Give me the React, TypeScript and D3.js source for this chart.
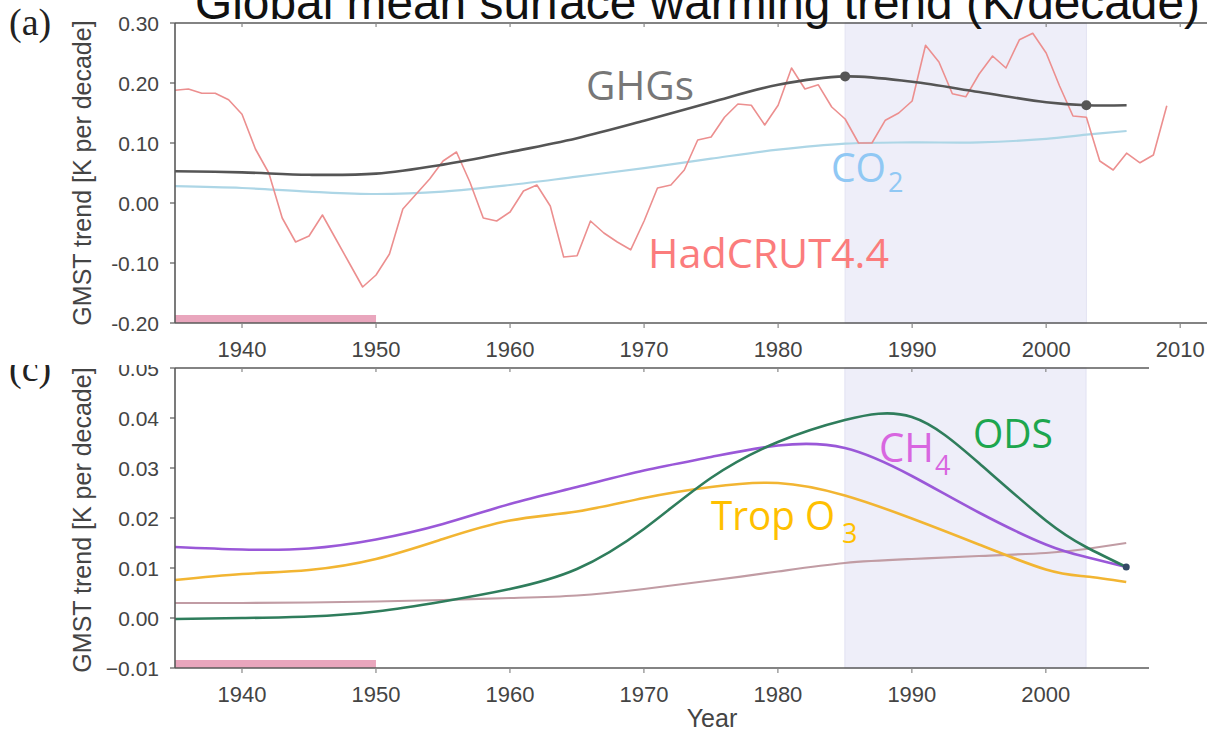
import React from "react";
import * as d3 from "d3";

// ---------- data ----------
const hadYears = d3.range(1935, 2010);
const hadVals = [
  0.188, 0.19, 0.183, 0.183, 0.172, 0.148, 0.09, 0.05, -0.025, -0.065,
  -0.055, -0.02, -0.06, -0.1, -0.14, -0.12, -0.085, -0.01, 0.015, 0.04,
  0.07, 0.085, 0.035, -0.025, -0.03, -0.015, 0.02, 0.03, -0.005, -0.09,
  -0.088, -0.03, -0.05, -0.065, -0.078, -0.03, 0.025, 0.03, 0.055, 0.105,
  0.11, 0.143, 0.165, 0.163, 0.13, 0.163, 0.225, 0.19, 0.197, 0.16,
  0.14, 0.1, 0.1, 0.138, 0.15, 0.17, 0.263, 0.235, 0.182, 0.177,
  0.215, 0.245, 0.225, 0.272, 0.283, 0.25, 0.195, 0.145, 0.143, 0.07,
  0.055, 0.083, 0.067, 0.08, 0.162,
];

const topYears = [1935, 1940, 1945, 1950, 1955, 1960, 1965, 1970, 1975, 1980, 1985, 1990, 1995, 2000, 2003, 2006];
const ghgVals = [0.053, 0.051, 0.047, 0.049, 0.064, 0.085, 0.108, 0.137, 0.168, 0.197, 0.211, 0.202, 0.185, 0.168, 0.163, 0.163];
const co2Vals = [0.028, 0.025, 0.019, 0.015, 0.019, 0.03, 0.044, 0.058, 0.074, 0.089, 0.099, 0.101, 0.101, 0.107, 0.114, 0.12];
const ghgDotYears = [1985, 2003];

const botYears = [1935, 1940, 1945, 1950, 1955, 1960, 1965, 1970, 1975, 1980, 1985, 1990, 1995, 2000, 2003, 2006];
const ch4Vals = [0.0142, 0.0137, 0.0139, 0.0157, 0.0188, 0.0228, 0.0262, 0.0295, 0.0322, 0.0345, 0.034, 0.0284, 0.0211, 0.0147, 0.0122, 0.0102];
const o3Vals = [0.0076, 0.0088, 0.0096, 0.0118, 0.0158, 0.0195, 0.0213, 0.024, 0.0262, 0.027, 0.0245, 0.0199, 0.0147, 0.0097, 0.0083, 0.0072];
const odsVals = [-0.0002, 0.0, 0.0003, 0.0013, 0.0033, 0.0058, 0.0098, 0.0178, 0.028, 0.0352, 0.0396, 0.0402, 0.031, 0.0195, 0.0142, 0.0102];
const otherVals = [0.003, 0.003, 0.0031, 0.0033, 0.0036, 0.004, 0.0045, 0.0058, 0.0075, 0.0093, 0.011, 0.0118, 0.0124, 0.013, 0.0138, 0.015];

const xTicks = [1940, 1950, 1960, 1970, 1980, 1990, 2000, 2010];
const xTicksBot = [1940, 1950, 1960, 1970, 1980, 1990, 2000];
const yTicksTop = [0.3, 0.2, 0.1, 0.0, -0.1, -0.2];
const yTickLabelsTop = ["0.30", "0.20", "0.10", "0.00", "-0.10", "-0.20"];
const yTicksBot = [0.05, 0.04, 0.03, 0.02, 0.01, 0.0, -0.01];
const yTickLabelsBot = ["0.05", "0.04", "0.03", "0.02", "0.01", "0.00", "\u22120.01"];
const shadeSpan = [1985, 2003];
const baseSpan = [1935, 1950];

// ---------- layout ----------
const W = 1207;
const H = 732;
const LEFT = 175;
const xTop = d3.scaleLinear().domain([1935, 2012]).range([LEFT, 1207]);
const xBot = d3.scaleLinear().domain([1935, 2007.7]).range([LEFT, 1149]);
const yTop = d3.scaleLinear().domain([-0.2, 0.3]).range([323, 23]);
const yBot = d3.scaleLinear().domain([-0.01, 0.05]).range([668, 368]);

const SANS = "'Liberation Sans', Arial, sans-serif";
const LABEL = "'Open Sans', 'Noto Sans', sans-serif";
const SERIF = "'Liberation Serif', 'DejaVu Serif', serif";
const AX = "#5a5a5a";
const TXT = "#444";

function pathOf(years: number[], vals: number[], x: any, y: any, curve: any) {
  const gen = d3
    .line<number>()
    .x((_, i) => x(years[i]))
    .y((v) => y(v))
    .curve(curve);
  return gen(vals) || "";
}

function Panel({ x, y, x1, yTicks, yLabels, xt, tickY }: any) {
  const [y0, y1] = [y.range()[0], y.range()[1]];
  return (
    <g>
      <line x1={LEFT} x2={LEFT} y1={y1} y2={y0} stroke={AX} strokeWidth={1.6} />
      <line x1={LEFT} x2={x1} y1={y1} y2={y1} stroke={AX} strokeWidth={1.6} />
      <line x1={LEFT} x2={x1} y1={y0} y2={y0} stroke={AX} strokeWidth={1.6} />
      {yTicks.map((t: number, i: number) => (
        <g key={"y" + i}>
          <line x1={LEFT - 5} x2={LEFT} y1={y(t)} y2={y(t)} stroke={AX} strokeWidth={1.2} />
          <text x={159} y={y(t)} dy="0.36em" textAnchor="end" fontSize={21} fontFamily={SANS} fill={TXT}>
            {yLabels[i]}
          </text>
        </g>
      ))}
      {xt.map((t: number) => (
        <g key={"x" + t}>
          <line x1={x(t)} x2={x(t)} y1={y0} y2={y0 + 5} stroke="#888" strokeWidth={1.2} />
          <line x1={x(t)} x2={x(t)} y1={y1} y2={y1 + 4} stroke="#888" strokeWidth={1.2} />
          <text x={x(t)} y={tickY} textAnchor="middle" fontSize={22} fontFamily={SANS} fill={TXT}>
            {t}
          </text>
        </g>
      ))}
    </g>
  );
}

export default function App() {
  const smooth = d3.curveCatmullRom.alpha(0.5);
  const hadPath = pathOf(hadYears, hadVals, xTop, yTop, d3.curveLinear);
  const ghgPath = pathOf(topYears, ghgVals, xTop, yTop, smooth);
  const co2Path = pathOf(topYears, co2Vals, xTop, yTop, smooth);
  const ch4Path = pathOf(botYears, ch4Vals, xBot, yBot, d3.curveNatural);
  const o3Path = pathOf(botYears, o3Vals, xBot, yBot, d3.curveNatural);
  const odsPath = pathOf(botYears, odsVals, xBot, yBot, d3.curveNatural);
  const othPath = pathOf(botYears, otherVals, xBot, yBot, d3.curveNatural);
  const ghgAt = (yr: number) => ghgVals[topYears.indexOf(yr)];

  return (
    <svg width={W} height={H} style={{ position: "absolute", left: 0, top: 0, background: "#fff" }}>
      <defs>
        <clipPath id="botclip">
          <rect x={0} y={365} width={W} height={H - 365} />
        </clipPath>
      </defs>
      <rect x={0} y={0} width={W} height={H} fill="#fff" />

      {/* ---------- top panel ---------- */}
      <rect x={xTop(shadeSpan[0])} y={23} width={xTop(shadeSpan[1]) - xTop(shadeSpan[0])} height={300} fill="#eeeef9" stroke="#e2e2f2" />
      <rect x={xTop(baseSpan[0])} y={315} width={xTop(baseSpan[1]) - xTop(baseSpan[0])} height={8} fill="#e9a6bd" />
      <path d={co2Path} fill="none" stroke="#add6e6" strokeWidth={2.2} />
      <path d={hadPath} fill="none" stroke="#ec8f8f" strokeWidth={1.6} strokeLinejoin="round" />
      <path d={ghgPath} fill="none" stroke="#555" strokeWidth={2.6} />
      {ghgDotYears.map((yr) => (
        <circle key={yr} cx={xTop(yr)} cy={yTop(ghgAt(yr))} r={5} fill="#555" />
      ))}
      <Panel x={xTop} y={yTop} x1={1207} yTicks={yTicksTop} yLabels={yTickLabelsTop} xt={xTicks} tickY={357} />
      <text x={82} y={173} transform="rotate(-90 82 173)" textAnchor="middle" dy="0.35em" fontSize={25} fontFamily={SANS} fill={TXT}>
        GMST trend [K per decade]
      </text>
      <text x={586} y={100} fontSize={41} fontFamily={LABEL} fill="#777" textLength={108} lengthAdjust="spacingAndGlyphs">GHGs</text>
      <text x={831} y={182} fontSize={41} fontFamily={LABEL} fill="#90c8f4" textLength={55} lengthAdjust="spacingAndGlyphs">CO</text>
      <text x={888} y={192} fontSize={27} fontFamily={LABEL} fill="#90c8f4">2</text>
      <text x={648} y={268} fontSize={40} fontFamily={LABEL} fill="#fb7c7c" textLength={241} lengthAdjust="spacingAndGlyphs">HadCRUT4.4</text>
      <text x={9} y={35} fontSize={38} fontFamily={SERIF} fill="#222">(a)</text>
      <text x={195} y={19} fontSize={48} fontFamily={SANS} fill="#111" textLength={1005} lengthAdjust="spacingAndGlyphs">
        Global mean surface warming trend (K/decade)
      </text>

      {/* ---------- bottom panel ---------- */}
      <g clipPath="url(#botclip)">
        <rect x={xBot(shadeSpan[0])} y={368} width={xBot(shadeSpan[1]) - xBot(shadeSpan[0])} height={300} fill="#eeeef9" stroke="#e2e2f2" />
        <rect x={xBot(baseSpan[0])} y={660} width={xBot(baseSpan[1]) - xBot(baseSpan[0])} height={8} fill="#e9a6bd" />
        <path d={othPath} fill="none" stroke="#c19ca4" strokeWidth={2.2} />
        <path d={o3Path} fill="none" stroke="#f2b532" strokeWidth={2.6} />
        <path d={ch4Path} fill="none" stroke="#9a58d8" strokeWidth={2.6} />
        <path d={odsPath} fill="none" stroke="#2f7d5c" strokeWidth={2.6} />
        <circle cx={xBot(2006)} cy={yBot(odsVals[odsVals.length - 1])} r={3.5} fill="#344a66" />
        <Panel x={xBot} y={yBot} x1={1149} yTicks={yTicksBot} yLabels={yTickLabelsBot} xt={xTicksBot} tickY={702} />
        <text x={82} y={520} transform="rotate(-90 82 520)" textAnchor="middle" dy="0.35em" fontSize={25} fontFamily={SANS} fill={TXT}>
          GMST trend [K per decade]
        </text>
        <text x={712} y={727} textAnchor="middle" fontSize={25} fontFamily={SANS} fill={TXT}>Year</text>
        <text x={9} y={381} fontSize={38} fontFamily={SERIF} fill="#222">(c)</text>
        <text x={879} y={462} fontSize={41} fontFamily={LABEL} fill="#d866e0" textLength={55} lengthAdjust="spacingAndGlyphs">CH</text>
        <text x={935} y={475} fontSize={27} fontFamily={LABEL} fill="#d866e0">4</text>
        <text x={973} y={448} fontSize={41} fontFamily={LABEL} fill="#1da64e" textLength={80} lengthAdjust="spacingAndGlyphs">ODS</text>
        <text x={711} y={530} fontSize={41} fontFamily={LABEL} fill="#ffc000" textLength={124} lengthAdjust="spacingAndGlyphs">Trop O</text>
        <text x={842} y={543} fontSize={27} fontFamily={LABEL} fill="#ffc000">3</text>
      </g>
    </svg>
  );
}
